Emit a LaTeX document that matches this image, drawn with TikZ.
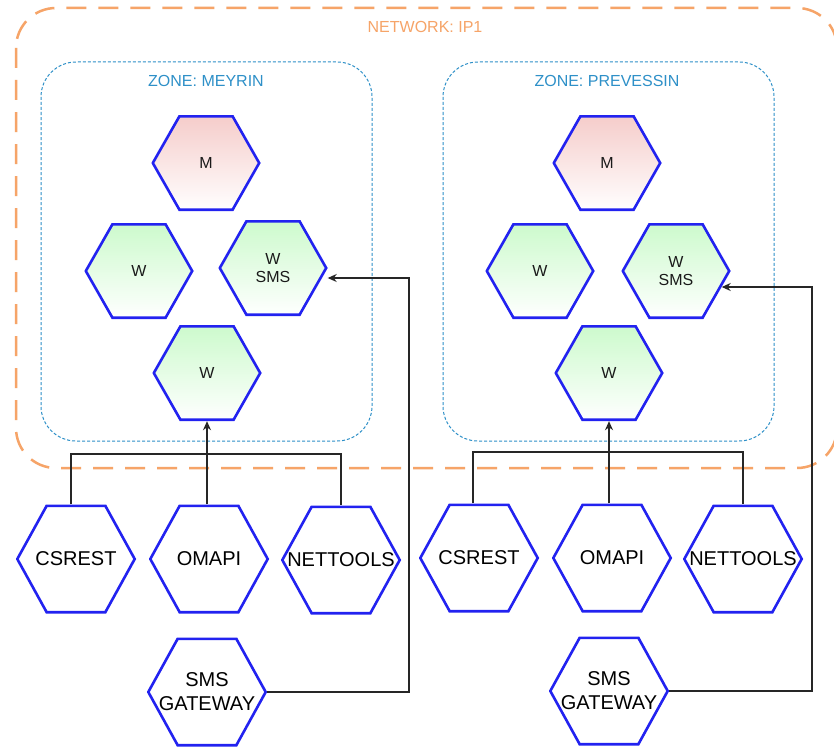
\documentclass[tikz,border=0pt]{standalone}
\usepackage{fontspec}
\setmainfont{Liberation Sans}
\usetikzlibrary{arrows.meta, calc}
\definecolor{hexblue}{HTML}{2222F0}
\definecolor{mpink}{HTML}{F5CCCA}
\definecolor{wgreen}{HTML}{CCFACC}
\definecolor{netorange}{HTML}{F6A468}
\definecolor{zoneblue}{HTML}{2E90C8}
\definecolor{linkgray}{HTML}{262626}
\definecolor{txtdark}{HTML}{1A1A1A}

\begin{document}
\begin{tikzpicture}[
    x=1pt, y=-1pt,
    >={Stealth[length=9pt, width=8pt]},
    font=\fontsize{16}{18}\selectfont,
    text=txtdark,
    hex/.style={rectangle, inner sep=0pt, align=center,
        path picture={
            \path[draw=hexblue, line width=2.6pt, #1]
                let \p1=([shift={(1.3pt,1.3pt)}]path picture bounding box.south west),
                    \p2=([shift={(-1.3pt,-1.3pt)}]path picture bounding box.north east),
                    \p3=($(\p1)!.25!(\p2)$), \p4=($(\p1)!.5!(\p2)$),
                    \p5=($(\p1)!.75!(\p2)$) in
                (\x1,\y4) -- (\x3,\y2) -- (\x5,\y2) -- (\x2,\y4)
                -- (\x5,\y1) -- (\x3,\y1) -- cycle;
        }},
    master/.style={hex={top color=mpink, bottom color=white},
        minimum width=109pt, minimum height=96pt},
    worker/.style={hex={top color=wgreen, bottom color=white},
        minimum width=109pt, minimum height=96pt},
    client/.style={hex={fill=white}, minimum width=120pt, minimum height=109pt,
        font=\fontsize{20}{24}\selectfont, text=black},
    link/.style={draw=linkgray, line width=1.2pt},
    netbox/.style={draw=netorange, line width=2.5pt,
        dash pattern=on 20pt off 12pt, rounded corners=40pt},
    zonebox/.style={draw=zoneblue, line width=1pt,
        dash pattern=on 3pt off 2pt, rounded corners=35pt},
]

\useasboundingbox[fill=white] (0,0) rectangle (834,749);

% Network and zones
\draw[netbox] (16,8) rectangle (837,468);
\node[text=netorange] (netlbl) at (425,27) {NETWORK: IP1};

\draw[zonebox] (41,62) rectangle (372,441);
\node[text=zoneblue] (zone1) at (206,81) {ZONE: MEYRIN};

\draw[zonebox] (443,62) rectangle (774,441);
\node[text=zoneblue] (zone2) at (607,81) {ZONE: PREVESSIN};

% Meyrin
\node[master] (m1)  at (206,163) {M};
\node[worker] (wl1) at (139,271) {W};
\node[worker] (ws1) at (273,268) {W\\SMS};
\node[worker] (wb1) at (207,373) {W};

\node[client] (cs1) at (76,559)  {CSREST};
\node[client] (om1) at (209,559) {OMAPI};
\node[client] (nt1) at (341,560) {NETTOOLS};
\node[client] (gw1) at (207,692) {SMS\\GATEWAY};

% Prevessin
\node[master] (m2)  at (607,163) {M};
\node[worker] (wl2) at (540,271) {W};
\node[worker] (ws2) at (676,271) {W\\SMS};
\node[worker] (wb2) at (609,373) {W};

\node[client] (cs2) at (479,558) {CSREST};
\node[client] (om2) at (612,558) {OMAPI};
\node[client] (nt2) at (743,559) {NETTOOLS};
\node[client] (gw2) at (609,691) {SMS\\GATEWAY};

% Clients to the workers
\coordinate (bus1) at (207,454);
\draw[link] ([xshift=-5pt]cs1.north) |- (bus1) -| (nt1.north);
\draw[link, ->] (om1.north -| wb1) -- (wb1.south);

\coordinate (bus2) at (609,452);
\draw[link] ([xshift=-6pt]cs2.north) |- (bus2) -| (nt2.north);
\draw[link, ->] (om2.north -| wb2) -- (wb2.south);

% SMS gateways
\coordinate (up1) at (409,278);
\draw[link, ->] (gw1.east) -| (up1) -- (up1 -| ws1.east);

\coordinate (up2) at (812,287);
\draw[link, ->] (gw2.east) -| (up2) -- ([xshift=-9pt]up2 -| ws2.east);

\end{tikzpicture}
\end{document}
